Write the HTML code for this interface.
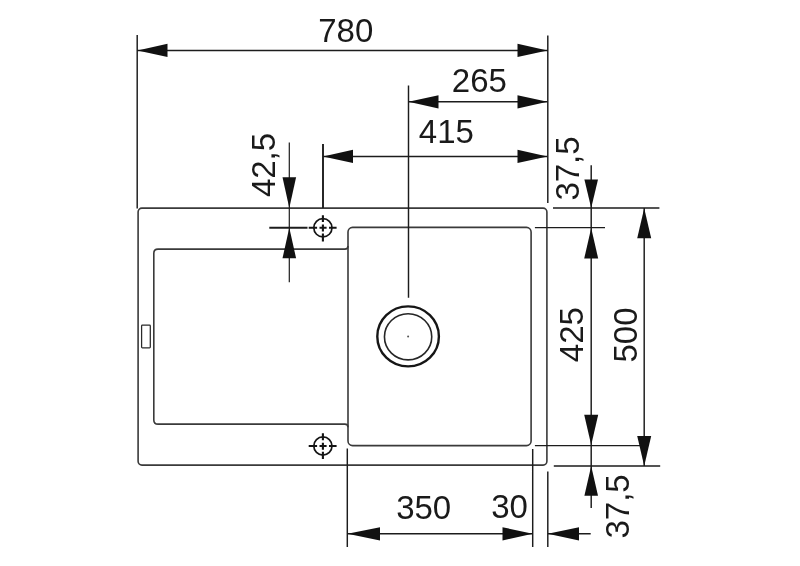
<!DOCTYPE html>
<html lang="en">
<head>
<meta charset="utf-8">
<title>Sink dimension drawing</title>
<style>
html,body{margin:0;padding:0;background:#fff;}
body{width:800px;height:566px;overflow:hidden;}
svg{display:block;will-change:transform;}
text{font-family:"Liberation Sans",Arial,Helvetica,sans-serif;font-size:33px;fill:#1a1a1a;}
.d{stroke:#1c1c1c;stroke-width:1.45;fill:none;}
.s{stroke:#3a3a3a;stroke-width:1.6;fill:none;stroke-linejoin:round;}
.a{fill:#111;stroke:none;}
</style>
</head>
<body>
<svg width="800" height="566" viewBox="0 0 800 566">
<rect width="800" height="566" fill="#fff"/>

<!-- sink outline -->
<g class="s">
  <rect x="138.1" y="208.1" width="408.8" height="257" rx="3.8" ry="3.8"/>
  <!-- bowl -->
  <rect x="348" y="227.4" width="183.1" height="218.2" rx="4.6" ry="4.6"/>
  <!-- drainer -->
  <path d="M348 246 Q348 249.1 344.8 249.1 H158 Q153.8 249.1 153.8 253.3 V419.9 Q153.8 424.1 158 424.1 H344.8 Q348 424.1 348 427.2"/>
  <rect x="141.6" y="325.1" width="8.7" height="22.8" rx="0.8" stroke="#2a2a2a" stroke-width="1.25"/>
</g>

<!-- drain -->
<ellipse cx="408.1" cy="336.4" rx="30.8" ry="30" fill="none" stroke="#161616" stroke-width="2.4"/>
<ellipse cx="408.1" cy="336.8" rx="23.65" ry="23.1" fill="none" stroke="#262626" stroke-width="1.6"/>
<circle cx="408.1" cy="336.6" r="1" fill="#555"/>

<!-- tap holes -->
<g fill="none" stroke="#141414">
  <circle cx="322.9" cy="227.8" r="9.1" stroke-width="1.7"/>
  <path stroke-width="2.1" d="M308.7 227.8 H317.1 M319.5 227.8 H326.6 M329 227.8 H336.6 M322.9 215.3 V222.1 M322.9 224.5 V231.6 M322.9 233.6 V241.6"/>
  <circle cx="322.9" cy="446" r="9.1" stroke-width="1.7"/>
  <path stroke-width="2.1" d="M308.7 446 H317.1 M319.5 446 H326.6 M329 446 H336.6 M322.9 433.3 V440.3 M322.9 442.7 V449.8 M322.9 451.8 V459"/>
</g>

<!-- dimension lines -->
<g class="d">
  <!-- 780 -->
  <path d="M137.2 35 V208.6 M547.8 35.5 V203 M137.5 50.4 H547.5"/>
  <!-- 265 -->
  <path d="M408.5 85.5 V297.8 M408.5 101.8 H547.5"/>
  <!-- 415 -->
  <path d="M323 144 V208" stroke-width="1.9"/><path d="M323 156.4 H547.5"/>
  <!-- 42,5 -->
  <path d="M289.3 142.5 V282.2" stroke-width="1.2"/>
  <path d="M269.3 227.8 H307.5" stroke-width="1.9"/>
  <!-- right verticals -->
  <path d="M591.2 165.2 V508 M644.2 208 V466"/>
  <path d="M553 208 H659.4 M534.9 227.6 H605 M534.9 445.6 H644 M553.8 465.9 H660.2"/>
  <!-- bottom -->
  <path d="M347.3 448.5 V547 M532.7 449 V547 M547.8 471.5 V547 M347.5 533.8 H532.7 M547.8 533.8 H590.7"/>
</g>

<!-- arrowheads -->
<g class="a">
  <!-- 780 -->
  <path d="M137.5 50.4 L167.5 43.8 V57 Z"/>
  <path d="M547.5 50.4 L517.5 43.8 V57 Z"/>
  <!-- 265 -->
  <path d="M408.5 101.8 L438.5 95.2 V108.4 Z"/>
  <path d="M547.5 101.8 L517.5 95.2 V108.4 Z"/>
  <!-- 415 -->
  <path d="M323 156.4 L353 149.8 V163 Z"/>
  <path d="M547.5 156.4 L517.5 149.8 V163 Z"/>
  <!-- 42,5 -->
  <path d="M289.3 208 L282.5 177.3 H296.1 Z"/>
  <path d="M289.3 227.8 L282.5 258.3 H296.1 Z"/>
  <!-- 37,5 top -->
  <path d="M591.2 208 L584.4 179.5 H598 Z"/>
  <!-- 425 -->
  <path d="M591.2 228 L584.2 258.6 H598.2 Z"/>
  <path d="M591.2 445 L584.2 414.7 H598.2 Z"/>
  <!-- 500 -->
  <path d="M644.2 208.3 L637.2 238.2 H651.2 Z"/>
  <path d="M644.2 466 L637.2 436 H651.2 Z"/>
  <!-- 37,5 bottom -->
  <path d="M591.2 466 L584.4 495.8 H598 Z"/>
  <!-- 350 / 30 -->
  <path d="M347.5 533.8 L380 527.2 V540.4 Z"/>
  <path d="M532.7 533.8 L502.5 527.2 V540.4 Z"/>
  <path d="M547.8 533.8 L579 527.2 V540.4 Z"/>
</g>

<!-- labels -->
<text id="t780" x="345.8" y="41.8" text-anchor="middle">780</text>
<text id="t265" x="479.4" y="91.9" text-anchor="middle">265</text>
<text id="t415" x="446.4" y="143.3" text-anchor="middle">415</text>
<text id="t350" x="423.7" y="518.7" text-anchor="middle">350</text>
<text id="t30" x="509.5" y="518.2" text-anchor="middle">30</text>
<text id="t425a" transform="translate(275 165) rotate(-90)" text-anchor="middle">42,5</text>
<text id="t375a" transform="translate(578.9 168.5) rotate(-90)" text-anchor="middle">37,5</text>
<text id="t425" transform="translate(583.2 334.6) rotate(-90)" text-anchor="middle">425</text>
<text id="t500" transform="translate(637.1 335) rotate(-90)" text-anchor="middle">500</text>
<text id="t375b" transform="translate(629.2 506.4) rotate(-90)" text-anchor="middle">37,5</text>
</svg>
</body>
</html>
